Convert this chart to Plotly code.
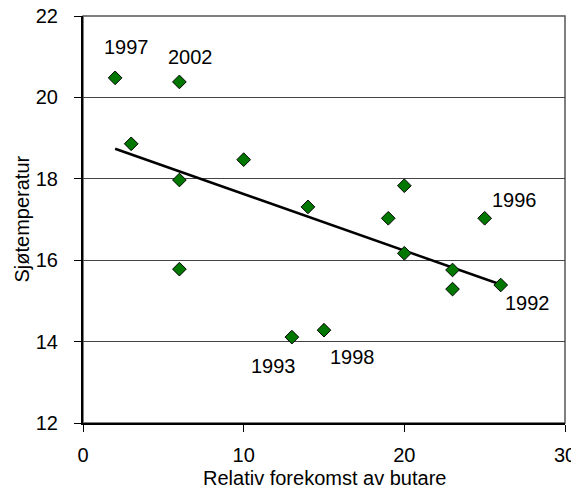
import numpy as np
import plotly.graph_objects as go

butare = [2, 3, 6, 6, 6, 10, 13, 14, 15, 19, 20, 20, 23, 23, 25, 26]
temperatur = [20.48, 18.86, 20.38, 17.97, 15.78, 18.47, 14.11, 17.31, 14.28,
              17.03, 17.83, 16.17, 15.76, 15.29, 17.03, 15.39]
aar_labels = ["1997", "", "2002", "", "", "", "1993", "", "1998",
              "", "", "", "", "", "1996", "1992"]

x_arr = np.array(butare, dtype=float)
y_arr = np.array(temperatur, dtype=float)
slope, intercept = np.polyfit(x_arr, y_arr, 1)
trend_x = [x_arr.min(), x_arr.max()]
trend_y = [intercept + slope * v for v in trend_x]

FONT = "Liberation Sans, Arial, sans-serif"
FS = 20

fig = go.Figure()
fig.add_trace(go.Scatter(x=trend_x, y=trend_y, mode="lines",
                         line=dict(color="black", width=2.5),
                         hoverinfo="skip", showlegend=False))
fig.add_trace(go.Scatter(x=butare, y=temperatur, mode="markers",
                         marker=dict(symbol="diamond", size=10.5, color="#007800",
                                     line=dict(color="black", width=1)),
                         showlegend=False))

# year annotations (pixel offsets from their point)
offsets = {
    "1997": (11, -31),
    "2002": (11, -25),
    "1993": (-18, 29),
    "1998": (28, 27),
    "1996": (30, -18),
    "1992": (27, 18),
}
for xv, yv, lab in zip(butare, temperatur, aar_labels):
    if lab:
        dx, dy = offsets[lab]
        fig.add_annotation(x=xv, y=yv, text=lab, showarrow=False,
                           xshift=dx, yshift=-dy,
                           font=dict(family=FONT, size=FS, color="black"))

# axis titles
fig.add_annotation(xref="paper", yref="paper", x=0.5, y=0, yshift=-55,
                   xanchor="center", yanchor="middle", showarrow=False,
                   text="Relativ forekomst av butare",
                   font=dict(family=FONT, size=FS, color="black"))
fig.add_annotation(xref="paper", yref="paper", x=0, y=0.5, xshift=-62,
                   xanchor="center", yanchor="middle", showarrow=False,
                   textangle=-90, text="Sjøtemperatur",
                   font=dict(family=FONT, size=FS, color="black"))

# page body has an 8px margin, so the figure is sized and offset accordingly
fig.update_layout(
    width=571, height=482,
    margin=dict(l=75, r=14, t=8, b=67, autoexpand=False),
    paper_bgcolor="white", plot_bgcolor="white",
    font=dict(family=FONT, size=FS, color="black"),
    shapes=[dict(type="rect", xref="paper", yref="paper", x0=0, y0=0, x1=1, y1=1,
                 line=dict(color="#555555", width=1.5), layer="below")],
)
fig.update_xaxes(range=[0, 30], tickvals=[0, 10, 20, 30], showgrid=False,
                 automargin=False, ticklabeloverflow="allow",
                 zeroline=False, showline=True, linecolor="black", linewidth=2,
                 ticks="outside", ticklen=7, tickcolor="black", ticklabelstandoff=6,
                 tickfont=dict(family=FONT, size=FS))
fig.update_yaxes(range=[12, 22], tickvals=[12, 14, 16, 18, 20, 22], showgrid=True,
                 automargin=False, ticklabeloverflow="allow",
                 gridcolor="#444444", gridwidth=1,
                 zeroline=False, showline=True, linecolor="black", linewidth=2,
                 ticks="outside", ticklen=7, tickcolor="black", ticklabelstandoff=12,
                 tickfont=dict(family=FONT, size=FS))

fig.write_html("out.html")
